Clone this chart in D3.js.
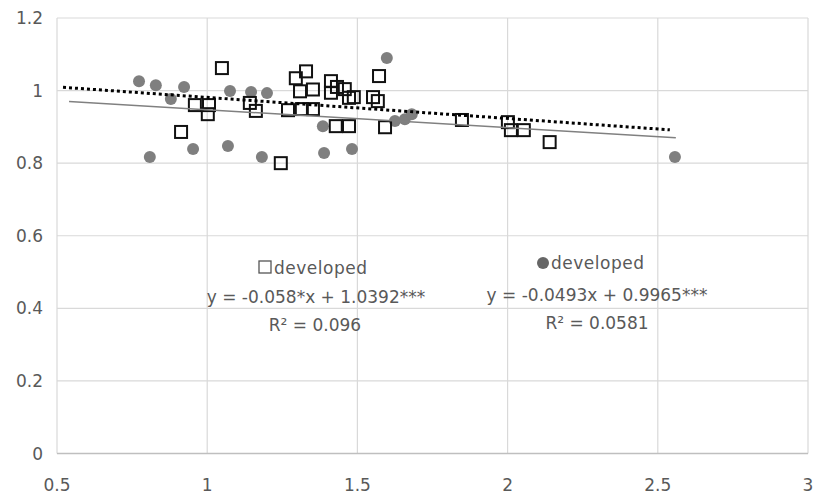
<!DOCTYPE html>
<head>
<meta charset="utf-8">
<script src="https://d3js.org/d3.v7.min.js"></script>
<style>
body { margin:0; background:#fff; }
text { font-family: "DejaVu Sans", sans-serif; fill:#595959; }
</style>
</head>
<body>
<script>

// open squares series
var sqX = [1.049,0.959,1.006,1.002,0.913,1.142,1.162,1.295,1.329,1.309,1.352,1.269,1.315,1.352,
           1.412,1.412,1.432,1.458,1.472,1.488,1.428,1.472,1.245,1.572,1.552,1.568,1.592,1.848,
           2.001,2.011,2.054,2.140];
var sqY = [1.062,0.960,0.960,0.935,0.886,0.966,0.944,1.034,1.053,0.998,1.003,0.946,0.949,0.949,
           1.026,0.994,1.010,1.004,0.980,0.982,0.902,0.902,0.800,1.040,0.982,0.971,0.899,0.919,
           0.913,0.891,0.891,0.858];

// filled circles series
var ciX = [0.773,0.829,0.879,0.923,0.809,0.953,1.069,1.076,1.146,1.182,1.199,1.385,1.389,1.482,
           1.598,1.625,1.658,1.681,2.557];
var ciY = [1.026,1.015,0.977,1.010,0.817,0.839,0.847,0.999,0.996,0.817,0.993,0.902,0.828,0.839,
           1.090,0.916,0.921,0.935,0.817];

// trend lines: slope, intercept, x-range
var sqTrend = {a:-0.058, b:1.0392, from:0.52, to:2.54};
var ciTrend = {a:-0.0493, b:0.9965, from:0.54, to:2.56};

var xTicks = [0.5,1,1.5,2,2.5,3];
var yTicks = [0,0.2,0.4,0.6,0.8,1,1.2];

var width = 815, height = 497;

var svg = d3.select("body").append("svg")
    .attr("width", width)
    .attr("height", height);

var x = d3.scaleLinear().domain([0.5,3]).range([57,808]);
var y = d3.scaleLinear().domain([0,1.2]).range([453.5,18]);

// gridlines
svg.append("g").selectAll("line")
  .data(yTicks.slice(1)).enter().append("line")
  .attr("x1", x(0.5)).attr("x2", x(3))
  .attr("y1", d => y(d)).attr("y2", d => y(d))
  .style("stroke", "#d9d9d9").style("stroke-width", 1.2);

svg.append("g").selectAll("line")
  .data(xTicks).enter().append("line")
  .attr("x1", d => x(d)).attr("x2", d => x(d))
  .attr("y1", y(0)).attr("y2", y(1.2))
  .style("stroke", "#d9d9d9").style("stroke-width", 1.2);

// x axis line
svg.append("line")
  .attr("x1", x(0.5)).attr("x2", x(3))
  .attr("y1", y(0)).attr("y2", y(0))
  .style("stroke", "#bfbfbf").style("stroke-width", 1.5);

// tick labels
svg.append("g").selectAll("text")
  .data(yTicks).enter().append("text")
  .attr("x", 43).attr("y", d => y(d) + 6)
  .attr("text-anchor", "end")
  .style("font-size", "17px")
  .text(d => d);

svg.append("g").selectAll("text")
  .data(xTicks).enter().append("text")
  .attr("x", d => x(d)).attr("y", 491)
  .attr("text-anchor", "middle")
  .style("font-size", "17px")
  .text(d => d);

// circles
svg.append("g").selectAll("circle")
  .data(d3.range(ciX.length)).enter().append("circle")
  .attr("cx", i => x(ciX[i])).attr("cy", i => y(ciY[i]))
  .attr("r", 6)
  .style("fill", "#7f7f7f");

// squares
var s = 12;
svg.append("g").selectAll("rect")
  .data(d3.range(sqX.length)).enter().append("rect")
  .attr("x", i => x(sqX[i]) - s/2).attr("y", i => y(sqY[i]) - s/2)
  .attr("width", s).attr("height", s)
  .style("fill", "none")
  .style("stroke", "#111")
  .style("stroke-width", 2);

// trend lines
var line = d3.line().x(d => x(d[0])).y(d => y(d[1]));
function ends(t) { return [[t.from, t.a*t.from + t.b], [t.to, t.a*t.to + t.b]]; }

svg.append("path")
  .attr("d", line(ends(ciTrend)))
  .style("fill", "none").style("stroke", "#808080").style("stroke-width", 1.5);

svg.append("path")
  .attr("d", line(ends(sqTrend)))
  .style("fill", "none").style("stroke", "#000")
  .style("stroke-width", 3).style("stroke-dasharray", "3,3");

// labels
var lab = svg.append("g").style("font-size", "17px");
lab.append("rect").attr("x", 259).attr("y", 261).attr("width", 12).attr("height", 12)
  .style("fill", "none").style("stroke", "#555").style("stroke-width", 1.3);
lab.append("text").attr("x", 274).attr("y", 274).style("letter-spacing", "0.5px").text("developed");
lab.append("text").attr("x", 316).attr("y", 303).attr("text-anchor", "middle").text("y = -0.058*x + 1.0392***");
lab.append("text").attr("x", 315).attr("y", 331).attr("text-anchor", "middle").text("R² = 0.096");

lab.append("circle").attr("cx", 543).attr("cy", 263).attr("r", 6).style("fill", "#666");
lab.append("text").attr("x", 551).attr("y", 269).style("letter-spacing", "0.5px").text("developed");
lab.append("text").attr("x", 597).attr("y", 301).attr("text-anchor", "middle").text("y = -0.0493x + 0.9965***");
lab.append("text").attr("x", 597).attr("y", 329).attr("text-anchor", "middle").text("R² = 0.0581");

</script>
</body>
